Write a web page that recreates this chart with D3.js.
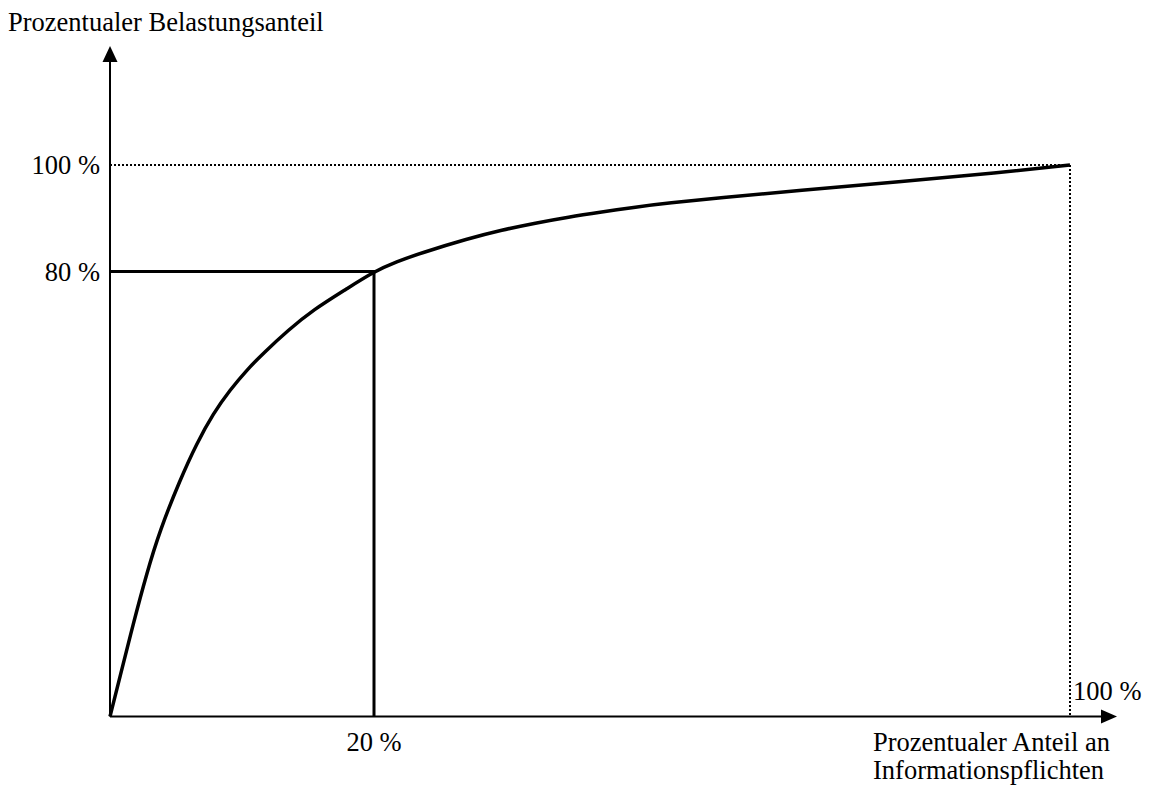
<!DOCTYPE html>
<html>
<head>
<meta charset="utf-8">
<script src="https://cdn.jsdelivr.net/npm/d3@7"></script>
<style>
  body { margin: 0; background: #fff; }
  text { font-family: "Liberation Serif", "Times New Roman", serif; fill: #000; }
</style>
</head>
<body>
<div id="chart"></div>
<script>
// curve: share of information obligations (x) vs. share of burden (y), in %
const shareObligations = [0, 0.76, 1.77, 2.78, 3.79, 5.30, 6.57, 7.83, 9.09, 10.36, 11.61, 13.51, 15.40, 17.93, 20, 22.61, 25.29, 30.87, 34.67, 38.57, 42.36, 46.16, 50.07, 53.86, 59.61, 68.81, 80.30, 91.79, 100];
const shareBurden      = [0, 7.16, 16.76, 25.74, 33.53, 42.52, 49.11, 54.51, 58.70, 62.29, 65.29, 69.48, 73.12, 76.88, 80, 81.84, 83.42, 86.20, 87.79, 89.11, 90.23, 91.17, 92.11, 92.86, 93.80, 95.21, 96.86, 98.54, 100];

const xTicks = [20, 100];
const xTickLabels = ["20 %", "100 %"];
const yTicks = [80, 100];
const yTickLabels = ["80 %", "100 %"];

const yTitle = "Prozentualer Belastungsanteil";
const xTitle = ["Prozentualer Anteil an", "Informationspflichten"];

const width = 1149, height = 785;
const fontSize = 26.5;

// the drawing is schematic: 20 % sits far wider than a linear axis would put it
const x = d3.scaleLinear().domain([0, 20, 100]).range([110, 374, 1070]);
const y = d3.scaleLinear().domain([0, 80, 100]).range([716.5, 271.5, 165]);

const svg = d3.select("#chart")
    .append("svg")
    .attr("width", width)
    .attr("height", height);

// dotted 100 % guides
svg.append("line")
    .attr("x1", x(0)).attr("x2", x(100))
    .attr("y1", y(100)).attr("y2", y(100))
    .attr("stroke", "#000").attr("stroke-width", 2)
    .attr("stroke-dasharray", "2,2");
svg.append("line")
    .attr("x1", x(100)).attr("x2", x(100))
    .attr("y1", y(100)).attr("y2", y(0))
    .attr("stroke", "#000").attr("stroke-width", 2)
    .attr("stroke-dasharray", "2,2");

// 80/20 marker lines
svg.append("path")
    .attr("d", `M${x(0)},${y(80)}H${x(20)}V${y(0)}`)
    .attr("fill", "none")
    .attr("stroke", "#000")
    .attr("stroke-width", 3);

// axes with arrow heads
const xEnd = 1117, yEnd = 46;
svg.append("line")
    .attr("x1", x(0)).attr("x2", xEnd - 14)
    .attr("y1", y(0)).attr("y2", y(0))
    .attr("stroke", "#000").attr("stroke-width", 2);
svg.append("path")
    .attr("d", `M${xEnd},${y(0)}L${xEnd - 16},${y(0) - 7}L${xEnd - 16},${y(0) + 7}Z`)
    .attr("fill", "#000");
svg.append("line")
    .attr("x1", x(0)).attr("x2", x(0))
    .attr("y1", y(0)).attr("y2", yEnd + 14)
    .attr("stroke", "#000").attr("stroke-width", 2);
svg.append("path")
    .attr("d", `M${x(0)},${yEnd}L${x(0) - 7.5},${yEnd + 16}L${x(0) + 7.5},${yEnd + 16}Z`)
    .attr("fill", "#000");

// the curve (b-spline evens out reading noise in the points)
const points = shareObligations.map((v, i) => [v, shareBurden[i]]);
const line = d3.line()
    .x(d => x(d[0]))
    .y(d => y(d[1]))
    .curve(d3.curveBasis);

svg.append("path")
    .datum(points)
    .attr("d", line)
    .attr("fill", "none")
    .attr("stroke", "#000")
    .attr("stroke-width", 3.5)
    .attr("stroke-linejoin", "round");

// tick labels
svg.selectAll("text.ytick")
    .data(yTicks)
    .enter()
    .append("text")
    .classed("ytick", true)
    .attr("x", 100)
    .attr("y", d => y(d) + 9)
    .attr("text-anchor", "end")
    .attr("font-size", fontSize)
    .text((d, i) => yTickLabels[i]);

svg.append("text")
    .attr("x", x(xTicks[0]))
    .attr("y", 751)
    .attr("text-anchor", "middle")
    .attr("font-size", fontSize)
    .text(xTickLabels[0]);

svg.append("text")
    .attr("x", x(xTicks[1]) + 3)
    .attr("y", 700)
    .attr("font-size", fontSize)
    .text(xTickLabels[1]);

// axis titles
svg.append("text")
    .attr("x", 8)
    .attr("y", 31)
    .attr("font-size", fontSize)
    .text(yTitle);

svg.selectAll("text.xtitle")
    .data(xTitle)
    .enter()
    .append("text")
    .classed("xtitle", true)
    .attr("x", 873)
    .attr("y", (d, i) => 751 + i * 28)
    .attr("font-size", fontSize)
    .text(d => d);
</script>
</body>
</html>
